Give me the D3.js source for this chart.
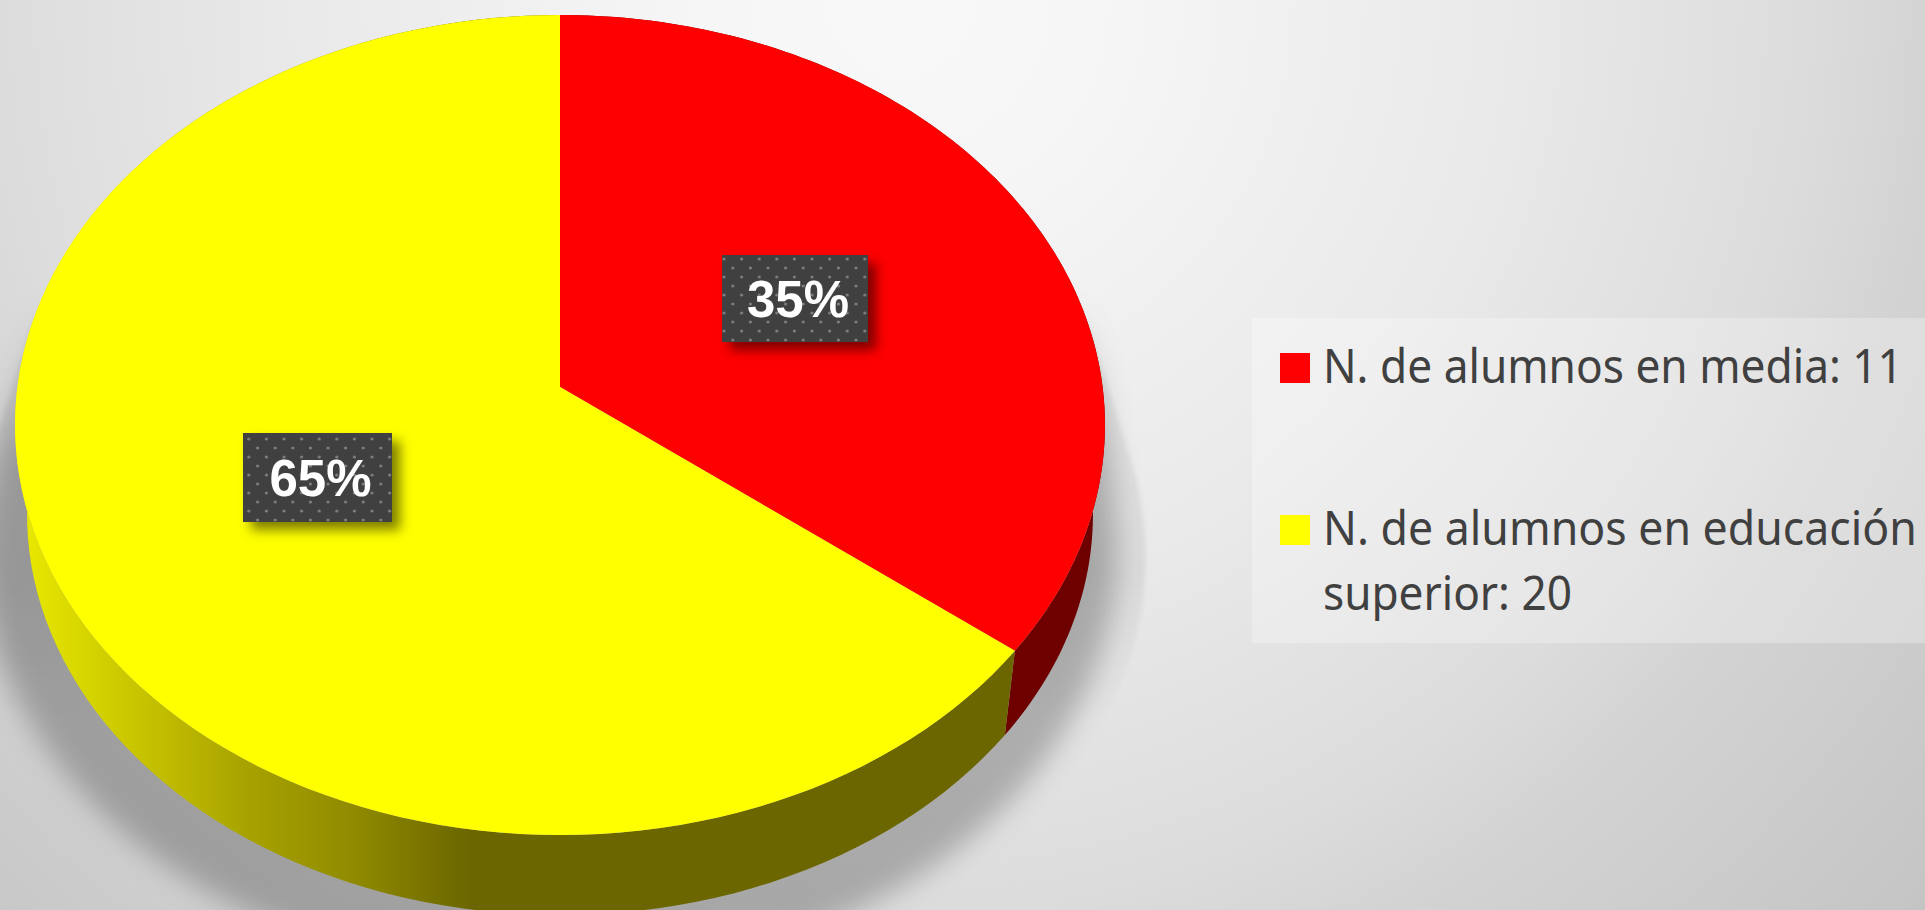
<!DOCTYPE html>
<html><head><meta charset="utf-8">
<script src="https://cdn.jsdelivr.net/npm/d3@7/dist/d3.min.js"></script>
<style>html,body{margin:0;padding:0;overflow:hidden;background:#e4e4e4}svg{display:block}</style>
</head><body><svg id="c" width="1925" height="910" viewBox="0 0 1925 910"></svg>
<script>
const categories = ["N. de alumnos en media", "N. de alumnos en educación superior"];
const values = [11, 20];
const topColors = ["#ff0000", "#ffff00"];
const legendLines = [["N. de alumnos en media: 11"], ["N. de alumnos en educación", "superior: 20"]];

const W = 1925, H = 910;
const svg = d3.select("#c");
const defs = svg.append("defs");

// perspective disc model
const cx = 560, apexY = 387, a = 542.6, b = 406.5, k = 0.0927;
const depthY = 90, botScale = 0.978;
const proj = (t, s, oy, dx = 0) => {
  const u = Math.sin(t), v = -Math.cos(t), d = 1 - k * v;
  return [cx + dx + s * a * u / d, oy + s * b * v / d];
};
const angles = (t0, t1) => d3.range(0, 121).map(i => t0 + (t1 - t0) * i / 120);

const bg = defs.append("radialGradient").attr("id", "bg").attr("gradientUnits", "userSpaceOnUse")
  .attr("cx", 900).attr("cy", 0).attr("r", 1400);
[[0, "#f9f9f9"], [0.14, "#f6f6f6"], [0.44, "#e9e9e9"], [0.65, "#dcdcdc"], [0.74, "#d3d3d3"], [1, "#c3c3c3"]].forEach(([o, c]) =>
  bg.append("stop").attr("offset", o).attr("stop-color", c));
svg.append("rect").attr("width", W).attr("height", H).attr("fill", "url(#bg)");

const blur = (id, sd) => defs.append("filter").attr("id", id).attr("filterUnits", "userSpaceOnUse")
  .attr("x", -100).attr("y", -100).attr("width", W + 200).attr("height", H + 300)
  .append("feGaussianBlur").attr("stdDeviation", sd);
blur("b1", 2); blur("b2", 14);
const ls = defs.append("filter").attr("id", "labelShadow").attr("x", "-20%").attr("y", "-20%").attr("width", "150%").attr("height", "150%");
ls.append("feDropShadow").attr("dx", 8).attr("dy", 8).attr("stdDeviation", 6).attr("flood-color", "#000").attr("flood-opacity", 0.5);

const vgrad = (id, stops) => {
  const g = defs.append("linearGradient").attr("id", id).attr("gradientUnits", "userSpaceOnUse")
    .attr("x1", 0).attr("x2", 0).attr("y1", 0).attr("y2", H);
  stops.forEach(([y, o]) => g.append("stop").attr("offset", y / H).attr("stop-color", "#000").attr("stop-opacity", o));
};
vgrad("faint", [[300, 0], [335, 0.06], [570, 0.06], [720, 0]]);
vgrad("dark", [[300, 0], [450, 0.24], [910, 0.24]]);

const side = defs.append("linearGradient").attr("id", "sideY").attr("gradientUnits", "userSpaceOnUse")
  .attr("x1", 25).attr("x2", 470).attr("y1", 0).attr("y2", 0);
[[0, "#e8e800"], [0.5, "#a8a200"], [0.75, "#8e8900"], [1, "#6b6600"]].forEach(([o, c]) =>
  side.append("stop").attr("offset", o).attr("stop-color", c));

const line = d3.line();
const fullCircle = angles(0, 2 * Math.PI);

// cast shadow
const hull = (s, oy, dx) => d3.polygonHull(fullCircle.map(t => proj(t, 1, apexY)).concat(fullCircle.map(t => proj(t, s, oy, dx))));
svg.append("path").attr("d", line(hull(1.075, apexY + 130, 0)) + "Z").attr("fill", "url(#faint)").attr("filter", "url(#b1)");
svg.append("path").attr("d", line(hull(1.04, apexY + 125, -10)) + "Z").attr("fill", "url(#dark)").attr("filter", "url(#b2)");

// pie angles via d3.pie
const arcs = d3.pie().sort(null).value(d => d)(values);
const sideFills = ["#6e0000", "url(#sideY)"];

// sides
svg.append("g").selectAll("path").data(arcs).join("path")
  .attr("d", d => {
    const ts = angles(d.startAngle, d.endAngle);
    return line(ts.map(t => proj(t, 1, apexY)).concat(ts.slice().reverse().map(t => proj(t, botScale, apexY + depthY)))) + "Z";
  })
  .attr("fill", (d, i) => sideFills[i]);

// top faces
svg.append("g").selectAll("path").data(arcs).join("path")
  .attr("d", d => line([[cx, apexY]].concat(angles(d.startAngle, d.endAngle).map(t => proj(t, 1, apexY)))) + "Z")
  .attr("fill", (d, i) => topColors[i]);

// data labels
const pat = defs.append("pattern").attr("id", "dots").attr("patternUnits", "userSpaceOnUse").attr("width", 17.6).attr("height", 18);
pat.append("rect").attr("width", 17.6).attr("height", 18).attr("fill", "#404040");
[[2.4, 7], [11.2, 16]].forEach(([x, y]) => pat.append("circle").attr("cx", x).attr("cy", y).attr("r", 1.6).attr("fill", "#7e7e7e"));
const pct = d3.format(".0%");
const total = d3.sum(values);
const labelBoxes = [[722, 255, 146, 87], [243, 433, 149, 89]];
const lab = svg.append("g").selectAll("g").data(arcs).join("g");
lab.append("rect").attr("x", (d, i) => labelBoxes[i][0]).attr("y", (d, i) => labelBoxes[i][1])
  .attr("width", (d, i) => labelBoxes[i][2]).attr("height", (d, i) => labelBoxes[i][3])
  .attr("fill", "url(#dots)").attr("filter", "url(#labelShadow)");
lab.append("text").attr("x", (d, i) => labelBoxes[i][0] + labelBoxes[i][2] / 2 + 3)
  .attr("y", (d, i) => labelBoxes[i][1] + labelBoxes[i][3] / 2 + 18.5)
  .attr("text-anchor", "middle").attr("fill", "#fff").attr("font-family", "Liberation Sans")
  .attr("font-weight", 700).attr("font-size", 51)
  .text(d => pct(d.value / total));

// legend
svg.append("rect").attr("x", 1252).attr("y", 318).attr("width", 673).attr("height", 325).attr("fill", "#fff").attr("fill-opacity", 0.28);
const legY = [353, 515];
svg.append("g").selectAll("rect").data(categories).join("rect")
  .attr("x", 1280).attr("y", (d, i) => legY[i]).attr("width", 30).attr("height", 30).attr("fill", (d, i) => topColors[i]);
const legText = svg.append("g").attr("font-family", "Noto Sans").attr("font-size", 48).attr("fill", "#404040");
const lineWidths = [[580], [594, 249]];
legendLines.forEach((ls, i) => ls.forEach((t, j) => {
  const el = legText.append("text").text(t);
  const sx = lineWidths[i][j] / el.node().getComputedTextLength();
  el.attr("transform", `translate(1323,${legY[i] + 30 + j * 65}) scale(${sx},1)`);
}));
</script></body></html>
